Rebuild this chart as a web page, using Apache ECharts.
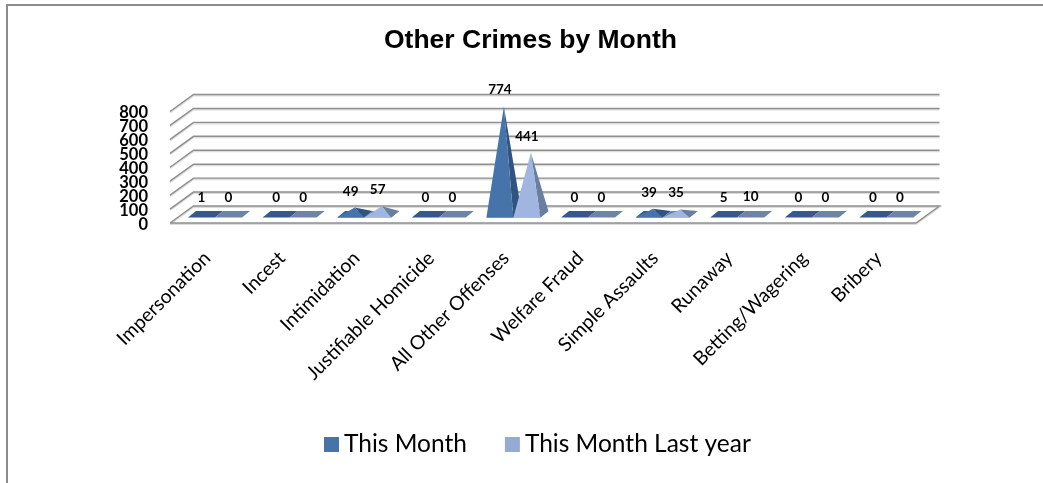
<!DOCTYPE html>
<html><head><meta charset="utf-8">
<style>html,body{margin:0;padding:0;background:#fff}#c{width:1043px;height:483px}</style>
<script src="https://cdn.jsdelivr.net/npm/echarts@6/dist/echarts.min.js"></script>
</head><body><div id="c"></div>
<script>
const categories=['Impersonation','Incest','Intimidation','Justifiable Homicide','All Other Offenses','Welfare Fraud','Simple Assaults','Runaway','Betting/Wagering','Bribery'];
const thisMonth=[1,0,49,0,774,0,39,5,0,0];
const lastYear=[0,0,57,0,441,0,35,10,0,0];
const ticks=[0,100,200,300,400,500,600,700,800];

const DX=23.5,DY=17;           // wall depth
const BW=27,BDX=8,BDY=6.6;     // pyramid base width and depth

function pyramid(shift,main,side,flatMain){
  return function(params,api){
    const i=api.value(0),v=api.value(1);
    const base=api.coord([i,0]),top=api.coord([i,v]);
    const fy=base[1]-5.4, x0=base[0]+shift;
    const FL=[x0,fy],FR=[x0+BW,fy],BR=[x0+BW+BDX,fy-BDY],BL=[x0+BDX,fy-BDY];
    const h=base[1]-top[1];
    const A=[x0+BW/2+BDX/2,fy-BDY/2-h];
    const kids=[{type:'polygon',shape:{points:[FL,FR,BR,BL]},style:{fill:flatMain}}];
    if(v>=20){
      kids.push({type:'polygon',shape:{points:[FR,BR,A]},style:{fill:side}});
      kids.push({type:'polygon',shape:{points:[FL,FR,A]},style:{fill:main}});
    }
    kids.push({type:'text',z2:10,style:{text:String(v),x:x0+BW/2,y:top[1]-25,align:'center',verticalAlign:'middle',
      font:'bold 13.5px Lato',fill:'#000'}});
    return {type:'group',children:kids};
  };
}
function wall(params,api){
  const v=api.value(0);
  const p=api.coord([0,v]),band=api.size([1,0])[0];
  const end=api.coord([categories.length-1,v]);
  const L=[p[0]-band/2,p[1]],B=[L[0]+DX,L[1]-DY],R=[end[0]+band/2+DX,L[1]-DY];
  const pts=[L,B,R];
  if(v===ticks[0]){pts.push([end[0]+band/2,L[1]]);pts.push(L);}
  return {type:'group',children:[
    {type:'polyline',shape:{points:pts.map(q=>[q[0],q[1]+1])},style:{stroke:'#dcdcdc',lineWidth:2,fill:null}},
    {type:'polyline',shape:{points:pts},style:{stroke:'#8f8f8f',lineWidth:1.4,fill:null}},
    {type:'text',style:{text:String(v),x:L[0]-22,y:L[1]+1.2,align:'right',verticalAlign:'middle',
      font:'bold 16.5px Lato',fill:'#000'}}
  ]};
}
const chart=echarts.init(document.getElementById('c'),null,{renderer:'canvas'});
chart.setOption({
  animation:false,
  backgroundColor:'#fff',
  title:{text:'Other Crimes by Month',left:379,top:22,textStyle:{fontFamily:'Liberation Sans',fontWeight:'bold',fontSize:26.5,color:'#000'}},
  legend:{data:['This Month','This Month Last year'],left:319,top:427,icon:'rect',itemWidth:15,itemHeight:15,itemGap:38,
    textStyle:{fontFamily:'Lato',fontSize:24.5,color:'#000'}},
  grid:{left:170,width:746,top:111.5,height:111.5},
  xAxis:{type:'category',data:categories,axisLine:{show:false},axisTick:{show:false},
    axisLabel:{rotate:45,interval:0,fontFamily:'Lato',fontSize:19.4,color:'#000',margin:32}},
  yAxis:{type:'value',min:0,max:800,interval:100,axisLine:{show:false},axisTick:{show:false},splitLine:{show:false},axisLabel:{show:false}},
  series:[
    {type:'custom',name:'walls',silent:true,z:1,clip:false,data:ticks.map(t=>[t]),encode:{y:0},renderItem:wall},
    {type:'custom',name:'This Month',z:2,itemStyle:{color:'#4674AA'},data:thisMonth.map((v,i)=>[i,v]),encode:{x:0,y:1},
      renderItem:pyramid(-19.3,'#4674AA','#2F5480','#34598A')},
    {type:'custom',name:'This Month Last year',z:3,itemStyle:{color:'#95ABD4'},data:lastYear.map((v,i)=>[i,v]),encode:{x:0,y:1},
      renderItem:pyramid(7.7,'#A0B6E0','#6A7F9F','#6E83A8')}
  ],
  graphic:[{type:'polyline',silent:true,z:-1,shape:{points:[[7,483],[7,5],[1043,5]]},style:{fill:null,stroke:'#8c8c8c',lineWidth:2}}]
});
</script></body></html>
